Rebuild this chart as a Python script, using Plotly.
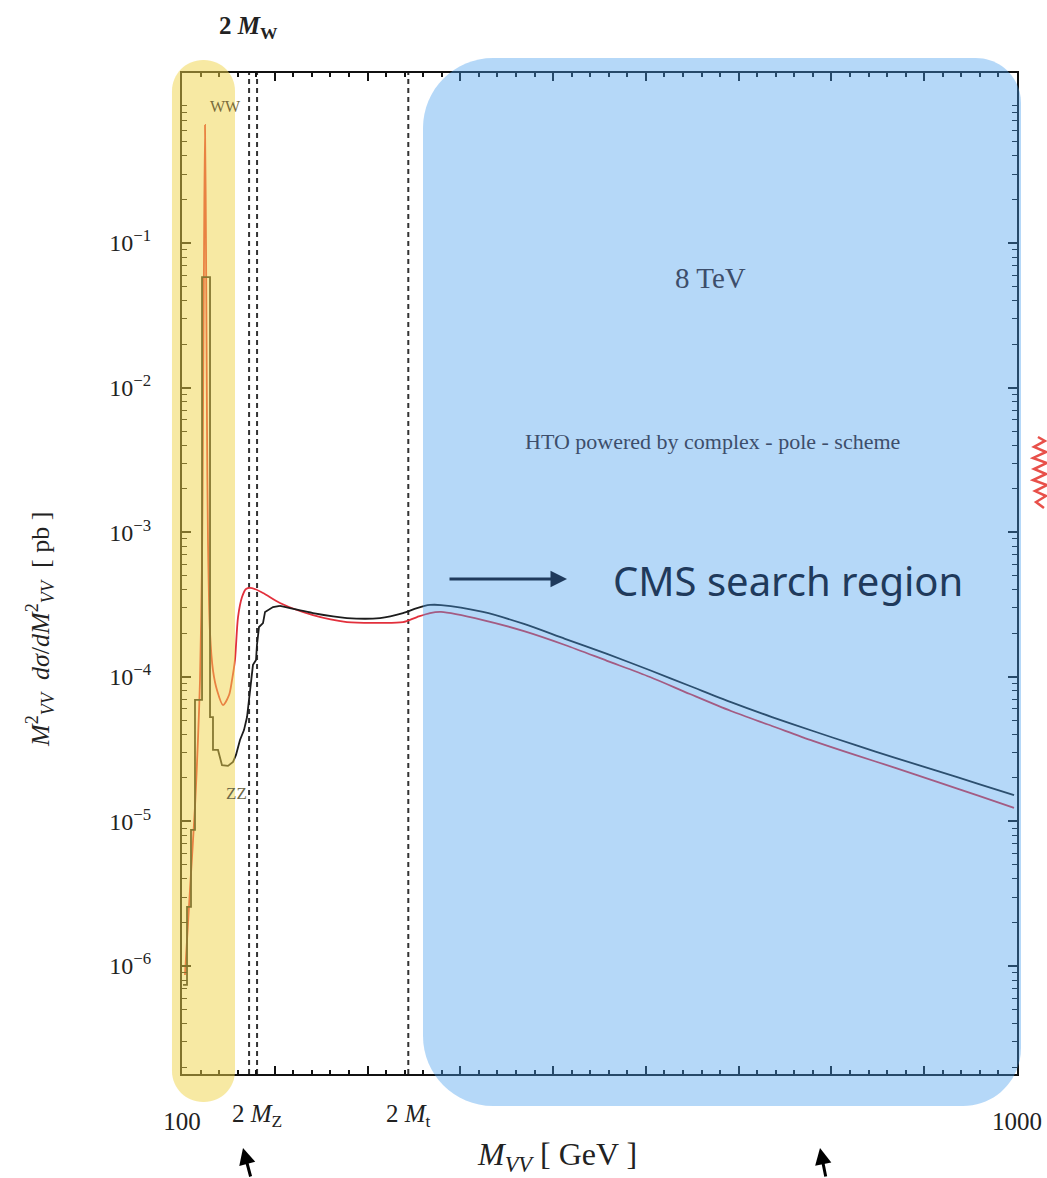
import plotly.graph_objects as go

# ---------------- data ----------------
# WW (red) curve: M_VV [GeV], M^2 dsigma/dM^2 [pb]
ww_mass = [103.2, 108.6, 114.0, 117.2, 119.4, 121.6, 122.6, 123.7, 124.8, 125.9, 126.9, 128.0,
           130.2, 133.4, 137.7, 144.2, 150.7, 153.9, 157.1, 160.4, 164.7, 169.0, 175.4, 187.3,
           205.6, 241.2, 277.8, 313.4, 338.2, 353.3, 367.3, 379.2, 424.4, 468.6, 512.8, 558.1,
           604.4, 647.5, 691.7, 735.9, 780.1, 825.4, 869.6, 914.8, 959.0, 996.8]
ww_xsec = [8.67e-7, 3.36e-6, 1.26e-5, 3.66e-5, 9.5e-5, 6.43e-4, 5.97e-3, 7.63e-2, 0.655, 8.95e-2,
           5.97e-3, 8.83e-4, 2.01e-4, 1.11e-4, 8.11e-5, 6.38e-5, 7.48e-5, 9.5e-5, 1.31e-4, 2.59e-4,
           3.56e-4, 4.05e-4, 4.11e-4, 3.80e-4, 3.24e-4, 2.67e-4, 2.39e-4, 2.36e-4, 2.39e-4, 2.59e-4,
           2.76e-4, 2.81e-4, 2.47e-4, 2.07e-4, 1.66e-4, 1.29e-4, 9.97e-5, 7.60e-5, 5.80e-5, 4.57e-5,
           3.60e-5, 2.88e-5, 2.34e-5, 1.87e-5, 1.50e-5, 1.24e-5]

# ZZ (black, histogrammed) curve -- low-mass stepped part
zz_step_mass = [101.1, 105.4, 105.4, 109.7, 109.7, 114.0, 114.0, 121.6, 121.6, 130.2, 130.2,
                133.4, 133.4, 138.8, 143.1, 149.6, 155.0, 158.2, 162.5, 166.8, 170.1, 173.3,
                176.5, 179.8, 180.8, 183.0, 187.3, 189.5, 192.7, 198.1, 205.6]
zz_step_xsec = [7.4e-7, 7.4e-7, 2.56e-6, 2.56e-6, 8.73e-6, 8.73e-6, 6.92e-5, 6.92e-5, 5.82e-2,
                5.82e-2, 5.27e-5, 5.27e-5, 3.12e-5, 3.12e-5, 2.45e-5, 2.42e-5, 2.58e-5, 2.88e-5,
                3.66e-5, 4.28e-5, 5.27e-5, 8.11e-5, 1.21e-4, 1.31e-4, 1.66e-4, 2.21e-4, 2.35e-4,
                2.81e-4, 2.90e-4, 3.04e-4, 3.09e-4]
# ZZ (black) -- smooth high-mass part
zz_smooth_mass = [205.6, 241.2, 277.8, 313.4, 338.2, 353.3, 367.3, 379.2, 424.4, 468.6, 512.8,
                  558.1, 604.4, 647.5, 691.7, 735.9, 780.1, 825.4, 869.6, 914.8, 959.0, 996.8]
zz_smooth_xsec = [3.09e-4, 2.76e-4, 2.55e-4, 2.55e-4, 2.76e-4, 2.99e-4, 3.14e-4, 3.135e-4,
                  2.81e-4, 2.32e-4, 1.83e-4, 1.44e-4, 1.11e-4, 8.64e-5, 6.69e-5, 5.27e-5,
                  4.22e-5, 3.38e-5, 2.74e-5, 2.23e-5, 1.81e-5, 1.52e-5]

# threshold positions (GeV) drawn as dashed lines
threshold_mass = [172.3, 180.9, 343.9]
threshold_labels = ["", "2 <i>M</i><sub>Z</sub>", "2 <i>M</i><sub>t</sub>"]

xtick_vals = [100, 200, 300, 400, 500, 600, 700, 800, 900, 1000]
xtick_text = ["100", "", "", "", "", "", "", "", "", "1000"]
ytick_vals = [1e-6, 1e-5, 1e-4, 1e-3, 1e-2, 1e-1]
ytick_text = ["10<sup>−6</sup>", "10<sup>−5</sup>", "10<sup>−4</sup>",
              "10<sup>−3</sup>", "10<sup>−2</sup>", "10<sup>−1</sup>"]
ymin_minor = [m * d for d in [1e-7, 1e-6, 1e-5, 1e-4, 1e-3, 1e-2, 1e-1] for m in range(2, 10)]

# ---------------- layout geometry (pixels) ----------------
W, H = 1047, 1178
L, R, T, B = 182, 1017, 73, 1074
PW, PH = R - L, B - T


def px(x):
    return (x - L) / PW


def py(y):
    return (B - y) / PH


def rounded(x0, y0, x1, y1, rtl, rtr, rbr, rbl):
    k = 0.4477  # 1 - 0.5523 (circular arc approximation)

    def P(x, y):
        return f"{px(x):.5f},{py(y):.5f}"
    s = f"M {P(x0 + rtl, y0)} L {P(x1 - rtr, y0)} "
    s += f"C {P(x1 - rtr * k, y0)} {P(x1, y0 + rtr * k)} {P(x1, y0 + rtr)} "
    s += f"L {P(x1, y1 - rbr)} "
    s += f"C {P(x1, y1 - rbr * k)} {P(x1 - rbr * k, y1)} {P(x1 - rbr, y1)} "
    s += f"L {P(x0 + rbl, y1)} "
    s += f"C {P(x0 + rbl * k, y1)} {P(x0, y1 - rbl * k)} {P(x0, y1 - rbl)} "
    s += f"L {P(x0, y0 + rtl)} "
    s += f"C {P(x0, y0 + rtl * k)} {P(x0 + rtl * k, y0)} {P(x0 + rtl, y0)} Z"
    return s


SERIF = "Liberation Serif, DejaVu Serif, serif"

fig = go.Figure()
fig.add_trace(go.Scatter(x=ww_mass, y=ww_xsec, mode="lines",
                         line=dict(color="#e2303c", width=1.8, shape="spline", smoothing=0.8),
                         showlegend=False))
fig.add_trace(go.Scatter(x=zz_step_mass, y=zz_step_xsec, mode="lines",
                         line=dict(color="#1c1c1c", width=1.8), showlegend=False))
fig.add_trace(go.Scatter(x=zz_smooth_mass, y=zz_smooth_xsec, mode="lines",
                         line=dict(color="#1c1c1c", width=1.8, shape="spline", smoothing=0.8),
                         showlegend=False))

shapes = []
for m in threshold_mass:
    shapes.append(dict(type="line", xref="x", yref="paper", x0=m, x1=m, y0=0, y1=1,
                       line=dict(color="#333333", width=2, dash="5px,4px"), layer="below"))

# highlight regions
shapes.append(dict(type="path", xref="paper", yref="paper",
                   path=rounded(172, 60, 235, 1102, 31, 31, 31, 31),
                   fillcolor="rgba(239,211,71,0.5)", line=dict(width=0), layer="above"))
shapes.append(dict(type="path", xref="paper", yref="paper",
                   path=rounded(423, 58, 1021, 1106, 70, 45, 58, 70),
                   fillcolor="rgba(70,158,238,0.4)", line=dict(width=0), layer="above"))
# red scribble on the right margin
scrib_pts = [(1038, 437), (1045, 441), (1034, 447), (1046, 452), (1033, 458), (1047, 463),
             (1034, 469), (1046, 474), (1033, 480), (1047, 485), (1035, 491), (1046, 496),
             (1036, 502), (1044, 508)]
scrib = "M " + " L ".join(f"{px(x):.4f},{py(y):.4f}" for x, y in scrib_pts)
shapes.append(dict(type="path", xref="paper", yref="paper", path=scrib,
                   line=dict(color="#e8504a", width=2.5), layer="above"))


def note(x, y, text, size, color, family=SERIF, **kw):
    d = dict(x=px(x), xref="paper", y=py(y), yref="paper", text=text, showarrow=False,
             xanchor="center", yanchor="middle", font=dict(family=family, size=size, color=color))
    d.update(kw)
    return d


annotations = []
for m, lab in zip(threshold_mass, threshold_labels):
    if lab:
        annotations.append(dict(x=m, xref="x", y=py(1115), yref="paper", text=lab,
                                showarrow=False, font=dict(family=SERIF, size=25, color="#222"),
                                xanchor="center", yanchor="middle"))
annotations.append(note(248, 27, "<b>2 <i>M</i><sub>W</sub></b>", 25, "#222"))
annotations.append(note(225, 107, "WW", 16, "#7a6c3a"))
annotations.append(note(236, 793, "ZZ", 17, "#6e6a48"))
annotations.append(note(710, 278, "8 TeV", 29, "#3d4e6b"))
annotations.append(note(712, 442, "HTO powered by complex - pole - scheme", 22, "#3d4e6b"))
annotations.append(note(788, 580, "CMS search region", 40, "#1f3a5c",
                        family="Noto Sans, sans-serif"))
annotations.append(dict(x=px(567), xref="paper", y=py(579), yref="paper", text="",
                        showarrow=True, ax=-119, ay=0, arrowhead=2, arrowsize=1.1,
                        arrowwidth=3, arrowcolor="#1f3a5c"))
annotations.append(dict(x=px(243), xref="paper", y=py(1148), yref="paper", text="",
                        showarrow=True, ax=8, ay=40, arrowhead=2, arrowsize=1.1,
                        arrowwidth=3, arrowcolor="#000"))
annotations.append(dict(x=px(820), xref="paper", y=py(1148), yref="paper", text="",
                        showarrow=True, ax=6, ay=40, arrowhead=2, arrowsize=1.1,
                        arrowwidth=3, arrowcolor="#000"))
annotations.append(note(557, 1156, "<i>M</i><sub><i>VV</i></sub> [ GeV ]", 32, "#222"))
annotations.append(note(40, 630,
                        "<i>M</i><sup>2</sup><sub><i>VV</i></sub>  <i>dσ</i>/<i>dM</i><sup>2</sup><sub><i>VV</i></sub>  [ pb ]",
                        26, "#222", textangle=-90))

fig.update_layout(
    width=W, height=H,
    margin=dict(l=L, r=W - R, t=T, b=H - B, autoexpand=False),
    paper_bgcolor="white", plot_bgcolor="white",
    shapes=shapes, annotations=annotations, showlegend=False,
)
fig.update_xaxes(type="linear", range=[100, 1000], showgrid=False, zeroline=False,
                 showline=True, linecolor="#111", linewidth=2, mirror="ticks",
                 ticks="inside", ticklen=8, tickwidth=2, tickcolor="#111",
                 tickvals=xtick_vals, ticktext=xtick_text, ticklabelstandoff=24,
                 tickfont=dict(family=SERIF, size=25, color="#222"),
                 minor=dict(ticks="inside", ticklen=4, tickwidth=1.5, tickcolor="#111",
                            dtick=20, showgrid=False))
fig.update_yaxes(type="log", range=[-6.747, 0.176], showgrid=False, zeroline=False,
                 showline=True, linecolor="#111", linewidth=2, mirror="ticks",
                 ticks="inside", ticklen=9, tickwidth=2, tickcolor="#111",
                 tickvals=ytick_vals, ticktext=ytick_text, ticklabelstandoff=24,
                 tickfont=dict(family=SERIF, size=24, color="#222"),
                 minor=dict(ticks="inside", ticklen=5, tickwidth=1.3, tickcolor="#111",
                            tickvals=ymin_minor, showgrid=False))

fig.write_html("out.html")
